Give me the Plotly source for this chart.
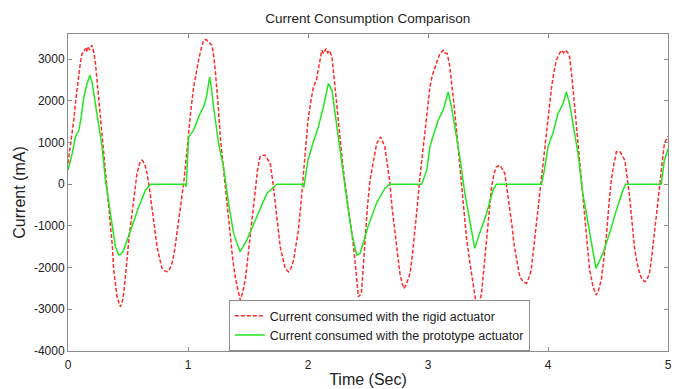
import plotly.graph_objects as go

# Rigid actuator (red dashed)
t_rigid = [0.0, 0.025, 0.048, 0.07, 0.09, 0.105, 0.118, 0.13, 0.145, 0.155, 0.165, 0.18, 0.2, 0.215, 0.229, 0.25, 0.27, 0.29,
           0.312, 0.333, 0.354, 0.37, 0.381, 0.395, 0.409, 0.425, 0.437, 0.45, 0.464, 0.477, 0.49, 0.51, 0.534, 0.555, 0.575,
           0.597, 0.617, 0.64, 0.659, 0.68, 0.70, 0.72, 0.742, 0.765, 0.784, 0.805, 0.825, 0.845, 0.867, 0.889, 0.909, 0.93,
           0.95, 0.965, 0.978, 0.99, 1.005, 1.025, 1.047, 1.068, 1.088, 1.11, 1.13, 1.15, 1.175, 1.2, 1.213, 1.227, 1.25,
           1.269, 1.29, 1.31, 1.33, 1.352, 1.372, 1.393, 1.415, 1.435, 1.455, 1.477, 1.497, 1.518, 1.54, 1.56, 1.58, 1.6,
           1.62, 1.643, 1.665, 1.685, 1.705, 1.726, 1.747, 1.768, 1.79, 1.81, 1.837, 1.86, 1.88, 1.9, 1.92, 1.94, 1.96, 1.98,
           2.0, 2.022, 2.045, 2.07, 2.09, 2.115, 2.13, 2.15, 2.165, 2.18, 2.2, 2.225, 2.245, 2.267, 2.29, 2.32, 2.35, 2.38,
           2.4, 2.42, 2.445, 2.46, 2.475, 2.495, 2.517, 2.545, 2.572, 2.605, 2.64, 2.66, 2.68, 2.7, 2.725, 2.745, 2.766, 2.785,
           2.8, 2.82, 2.85, 2.87, 2.89, 2.91, 2.93, 2.952, 2.974, 2.995, 3.016, 3.035, 3.057, 3.08, 3.1, 3.115, 3.126, 3.14,
           3.16, 3.18, 3.196, 3.217, 3.238, 3.26, 3.28, 3.3, 3.32, 3.35, 3.376, 3.395, 3.41, 3.428, 3.446, 3.467, 3.488, 3.51,
           3.53, 3.55, 3.57, 3.6, 3.64, 3.66, 3.68, 3.70, 3.72, 3.745, 3.765, 3.79, 3.82, 3.84, 3.86, 3.88, 3.9, 3.92, 3.945,
           3.967, 3.99, 4.01, 4.03, 4.05, 4.07, 4.09, 4.11, 4.13, 4.147, 4.165, 4.18, 4.2, 4.22, 4.24, 4.264, 4.285, 4.305,
           4.325, 4.347, 4.375, 4.4, 4.42, 4.444, 4.465, 4.486, 4.505, 4.527, 4.55, 4.57, 4.6, 4.64, 4.66, 4.68, 4.70, 4.72,
           4.74, 4.763, 4.785, 4.805, 4.825, 4.846, 4.866, 4.888, 4.91, 4.93, 4.95, 4.97, 5.0]
i_rigid = [500, 1000, 1530, 2150, 2650, 2950, 3130, 3150, 3250, 3180, 3300, 3220, 3330, 3150, 2890, 2250, 1530, 930,
           335, -260, -860, -1500, -2060, -2450, -2700, -2850, -2940, -2850, -2620, -2250, -1820, -1250, -700, -200, 256,
           500, 575, 480, 256, -130, -540, -1000, -1500, -1800, -2020, -2080, -2100, -2050, -1900, -1580, -1180, -750,
           -300, 50, 415, 800, 1210, 1800, 2330, 2700, 2970, 3250, 3450, 3470, 3400, 3330, 3100, 2730, 1950,
           1130, 530, -60, -650, -1260, -1780, -2220, -2550, -2780, -2600, -2300, -1800, -1260, -650, -60, 350, 650,
           690, 695, 600, 495, 100, -380, -950, -1500, -1800, -2020, -2100, -2000, -1820, -1500, -1100, -500, 175, 850,
           1530, 1950, 2330, 2490, 2850, 3210, 3130, 3250, 3150, 3200, 3050, 2330, 1700, 1130, 450, -220, -850, -1500,
           -2100, -2700, -2620, -2000, -1260, -550, 96, 600, 975, 1133, 894, 500, 96, -550, -1180, -1700, -2140, -2380,
           -2500, -2400, -2140, -1700, -1180, -550, 96, 700, 1290, 1850, 2330, 2600, 2810, 2980, 3130, 3180, 3210, 3150,
           3130, 2850, 2490, 1900, 1290, 600, -60, -650, -1260, -1900, -2460, -2750, -2980, -2850, -2620, -1950, -1260, -650,
           -60, 250, 415, 455, 256, -150, -540, -1000, -1500, -1900, -2220, -2330, -2380, -2250, -2060, -1550, -1020, -450, 175,
           750, 1290, 1850, 2330, 2700, 2970, 3100, 3210, 3150, 3210, 3150, 3050, 2550, 1930, 1250, 575, -150, -860,
           -1450, -2060, -2450, -2660, -2550, -2300, -1800, -1260, -580, 96, 500, 775, 775, 575, 150, -300, -900, -1500,
           -1850, -2140, -2280, -2340, -2280, -2140, -1700, -1180, -620, -64, 480, 975, 1150]

# Prototype actuator (green solid)
t_proto = [0.0, 0.035, 0.062, 0.09, 0.11, 0.132, 0.158, 0.182, 0.2, 0.215, 0.243, 0.284, 0.312, 0.354, 0.395, 0.423, 0.44,
           0.464, 0.52, 0.59, 0.645, 0.686, 0.8, 0.9, 0.975, 0.985, 1.005, 1.047, 1.075, 1.1, 1.13, 1.155, 1.18, 1.195, 1.213,
           1.255, 1.296, 1.338, 1.38, 1.435, 1.49, 1.574, 1.657, 1.74, 1.85, 1.955, 1.965, 2.0, 2.04, 2.086, 2.128, 2.17,
           2.2, 2.24, 2.28, 2.32, 2.365, 2.406, 2.435, 2.5, 2.57, 2.64, 2.68, 2.8, 2.947, 2.99, 3.016, 3.04, 3.085, 3.126,
           3.168, 3.196, 3.238, 3.265, 3.307, 3.35, 3.39, 3.43, 3.488, 3.542, 3.57, 3.75, 3.945, 3.97, 4.0, 4.04, 4.083,
           4.125, 4.153, 4.18, 4.22, 4.25, 4.29, 4.347, 4.4, 4.457, 4.513, 4.57, 4.624, 4.65, 4.8, 4.943, 4.97, 5.0]
i_proto = [335, 735, 1133, 1290, 1600, 2090, 2400, 2610, 2450, 2170, 1610, 894, 96, -700, -1500, -1700, -1680,
           -1580, -1100, -543, -144, 0, 0, 0, 0, -60, 1133, 1293, 1500, 1690, 1850, 2100, 2570, 2300, 1850,
           975, 415, -463, -1180, -1620, -1340, -783, -223, 0, 0, 0, -80, 575, 975, 1373, 1850, 2410,
           2250, 1373, 575, -304, -1180, -1700, -1660, -1020, -463, -103, 0, 0, 0, 335, 894, 1130, 1533, 1770,
           2210, 1850, 1133, 654, -223, -942, -1540, -1180, -703, -144, 0, 0, 0, 335, 894, 1214, 1690,
           1930, 2210, 1930, 1293, 735, -223, -1180, -2020, -1660, -1180, -623, -144, 0, 0, 0, 575, 850]

x_ticks = [0, 1, 2, 3, 4, 5]
y_ticks = [-4000, -3000, -2000, -1000, 0, 1000, 2000, 3000]
y_tick_text = ["-4000", "-3000", "-2000", "-1000", "0", "1000", "2000", "3000"]

FONT = "Arial, Liberation Sans, sans-serif"

fig = go.Figure()
fig.add_trace(go.Scatter(x=t_rigid, y=i_rigid, mode="lines",
                         name="Current consumed with the rigid actuator",
                         line=dict(color="#ff2b2b", width=1.5, dash="4px,2px")))
fig.add_trace(go.Scatter(x=t_proto, y=i_proto, mode="lines",
                         name="Current consumed with the prototype actuator",
                         line=dict(color="#22e622", width=1.5)))

axis_common = dict(showline=True, linecolor="#8c8c8c", linewidth=1, mirror="ticks",
                   ticks="inside", ticklen=4, tickcolor="#8c8c8c", showgrid=False, zeroline=False,
                   automargin=False,
                   tickfont=dict(family=FONT, size=12, color="#222222"))

# page body has an 8px default margin, so the figure is sized to fit the window
fig.update_layout(
    width=675, height=381,
    margin=dict(l=60, r=15, t=26, b=38),
    paper_bgcolor="white", plot_bgcolor="white",
    font=dict(family=FONT, color="#222222"),
    title=dict(text="Current Consumption Comparison", x=0.533, xanchor="center",
               y=0.974, yanchor="middle", yref="container",
               font=dict(size=13.5, color="#222222")),
    xaxis=dict(range=[0, 5], tickvals=x_ticks, ticklabelstandoff=3,
               title=dict(text="Time (Sec)", font=dict(size=16, color="#222222"), standoff=2),
               **axis_common),
    yaxis=dict(range=[-4000, 3600], tickvals=y_ticks, ticktext=y_tick_text,
               title=dict(text="Current (mA)", font=dict(size=16, color="#222222"), standoff=4),
               **axis_common),
    legend=dict(x=0.268, y=0.0, xanchor="left", yanchor="bottom",
                bgcolor="white", bordercolor="#8c8c8c", borderwidth=1,
                font=dict(size=12.5, color="#222222"), itemwidth=30, tracegroupgap=0),
    showlegend=True,
)

fig.write_html("out.html")
